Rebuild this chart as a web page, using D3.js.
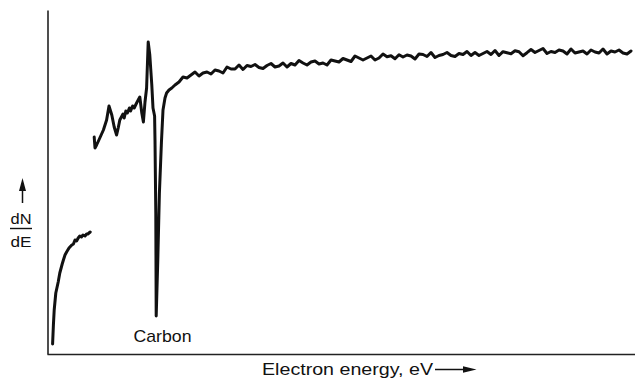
<!DOCTYPE html>
<html><head><meta charset="utf-8">
<script src="https://cdn.jsdelivr.net/npm/d3@7/dist/d3.min.js"></script>
<style>html,body{margin:0;padding:0;background:#fff;}svg{display:block;}</style>
</head><body>
<svg id="c" width="635" height="383"></svg>
<script>
// Energy axis (arbitrary eV) and dN/dE (arbitrary units)
const lowEnergy = [14,16,18,22,28,32,38,41,45,49,55,62,66,70,74,78,82,86,90,95,99,102,108];
const lowSignal = [10,29,44,61,72,81,90,94,99,102,106,109,110,114,113,116,118,117,119,118,120,120,122];

const midEnergy = [118,120,124,132,141,149,155,162,168,174,178,182,186,190,193,197,201,206,209,214,218,224,228,232,237,241,245,249,253,257,262,265,269,270,272,273,277,281,286,290,295,299,305,312,320];
const midSignal = [217,206,209,216,224,234,248,239,227,219,226,234,237,240,236,243,241,246,243,248,246,251,254,257,241,232,252,266,312,299,269,246,238,214,140,38,94,161,211,244,256,261,264,266,269];

const hiEnergy = [330,340,350,360,370,380,390,400,410,420,430,440,450,460,470,480,490,500,510,520,530,540,550,560,570,580,590,600,610,620,630,640,650,660,670,680,690,700,710,720,730,740,750,760,770,780,790,800,810,820,830,840,850,860,870,880,890,900,910,920,930,940,950,960,970,980,990,1000,1010,1020,1030,1040,1050,1060,1070,1080,1090,1100,1110,1120,1130,1140,1150,1160,1170,1180,1190,1200,1210,1220,1230,1240,1250,1260,1270,1280,1290,1300,1310,1320,1330,1340,1350,1360,1370,1380,1390,1400,1410,1420,1430,1440,1450,1460];
const hiSignal = [272,277,276,279,282,278,281,282,280,284,283,281,287,285,285,289,284.5,288.5,287.5,289.5,286.5,285.5,288.5,290.5,287,288,291,287,290.5,289,293.5,291,289,292,293,290,291,289,294,293,292,295.5,294,292.5,298,296,294,296,298,294,296,300,297.3,298.3,295.3,299.3,297,299,298,295,300,299.5,297.5,301.5,296.5,298.5,299.5,301.5,298.5,297.5,300.5,299.5,302.5,298.5,301.5,298.5,300.5,302.5,299.5,303.5,298.5,302.3,301.3,300.3,303.3,302.3,298.3,301.3,304.5,301.5,303.5,305.5,300.5,302.5,301.5,304,303,300,305,301,302,303,300,304,302,301,305,300,303,302,304,301,300,303];

const peakLabel = "Carbon";
const xTitle = "Electron energy,  eV";
const yTitleTop = "dN", yTitleBottom = "dE";

const svg = d3.select("#c");
const x = d3.scaleLinear().domain([0,1470]).range([47,635]);
const y = d3.scaleLinear().domain([0,344]).range([354,10]);

// axes (no ticks)
svg.append("g").attr("transform","translate(0,354)")
  .call(d3.axisBottom(x).tickValues([]).tickSizeOuter(0))
  .select(".domain").attr("stroke","#222").attr("stroke-width",1.6);
svg.append("g").attr("transform","translate(47.5,0)")
  .call(d3.axisLeft(y).tickValues([]).tickSizeOuter(0))
  .select(".domain").attr("stroke","#222").attr("stroke-width",1.6);

const line = d3.line().x(d=>x(d[0])).y(d=>y(d[1]));
const seg1 = lowEnergy.map((e,i)=>[e,lowSignal[i]]);
const seg2 = midEnergy.map((e,i)=>[e,midSignal[i]]).concat(hiEnergy.map((e,i)=>[e,hiSignal[i]]));
[seg1, seg2].forEach(s=>{
  svg.append("path").datum(s).attr("d",line)
    .attr("fill","none").attr("stroke","#111").attr("stroke-width",3)
    .attr("stroke-linejoin","round").attr("stroke-linecap","round");
});

const font = "'Liberation Sans', Arial, sans-serif";
svg.append("text").attr("x",162.5).attr("y",342).attr("text-anchor","middle")
  .attr("font-family",font).attr("font-size",17).attr("fill","#111")
  .attr("textLength",58).attr("lengthAdjust","spacingAndGlyphs").text(peakLabel);

svg.append("text").attr("x",262).attr("y",375)
  .attr("font-family",font).attr("font-size",16).attr("fill","#111")
  .attr("textLength",171).attr("lengthAdjust","spacingAndGlyphs").text(xTitle);
// x arrow
svg.append("line").attr("x1",435).attr("x2",466).attr("y1",369.5).attr("y2",369.5)
  .attr("stroke","#111").attr("stroke-width",1.5);
svg.append("path").attr("d","M463,366.3 L476.5,369.5 L463,372.7 Z").attr("fill","#111");

// y title
svg.append("text").attr("x",21).attr("y",223.5).attr("text-anchor","middle")
  .attr("font-family",font).attr("font-size",15).attr("fill","#111")
  .attr("textLength",21).attr("lengthAdjust","spacingAndGlyphs").text(yTitleTop);
svg.append("line").attr("x1",10).attr("x2",32).attr("y1",228.5).attr("y2",228.5)
  .attr("stroke","#111").attr("stroke-width",1.4);
svg.append("text").attr("x",21).attr("y",246.5).attr("text-anchor","middle")
  .attr("font-family",font).attr("font-size",15).attr("fill","#111")
  .attr("textLength",21).attr("lengthAdjust","spacingAndGlyphs").text(yTitleBottom);
svg.append("line").attr("x1",22.5).attr("x2",22.5).attr("y1",203).attr("y2",188)
  .attr("stroke","#111").attr("stroke-width",1.5);
svg.append("path").attr("d","M19,191 L22.5,178 L26,191 Z").attr("fill","#111");
</script>
</body></html>
